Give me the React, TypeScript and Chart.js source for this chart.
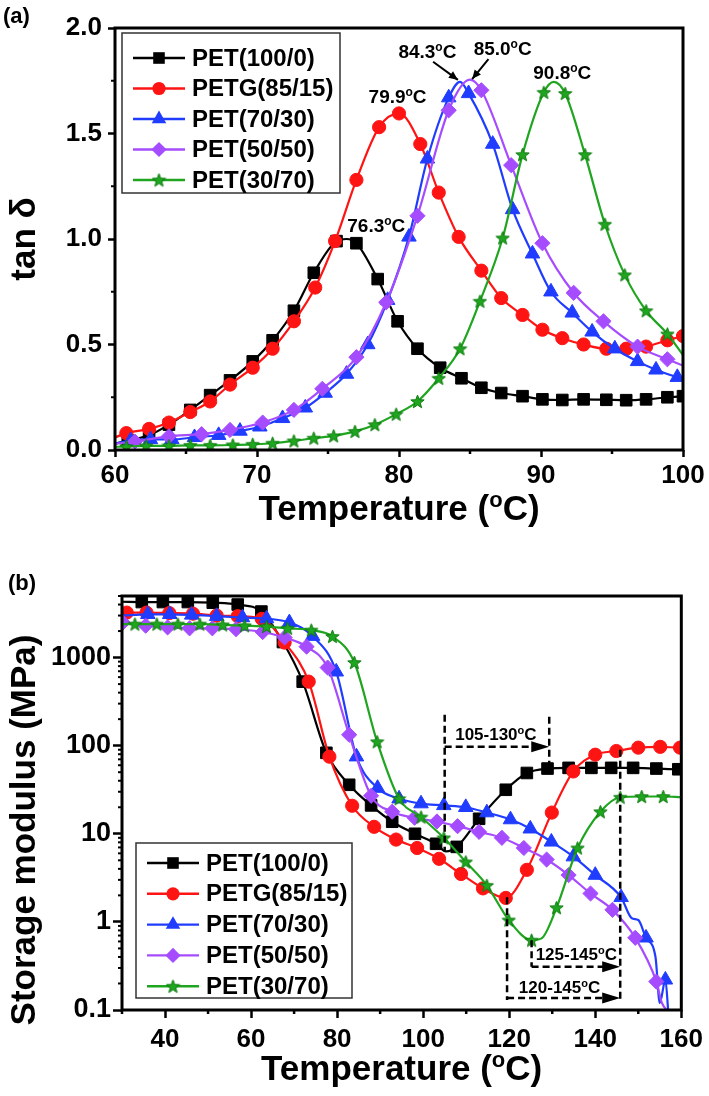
import React, { useEffect, useRef } from 'react';
import { Chart, registerables } from 'chart.js';
Chart.register(...registerables);

const FONT = "'Liberation Sans', Arial, Helvetica, sans-serif";

const NAMES = ['PET(100/0)', 'PETG(85/15)', 'PET(70/30)', 'PET(50/50)', 'PET(30/70)'];
const COLORS = ['#000000', '#ff1414', '#1f3cff', '#a64cff', '#1fa51f'];
const MARKERS = ['rect', 'circle', 'triangle', 'rectRot', 'star'];
const MARKER_R = [8.2, 6.6, 8.4, 7.6, 7];

// ---------- (a) tan delta ----------
const A_X_TICKS = [60, 70, 80, 90, 100];
const A_X_MINOR = [65, 75, 85, 95];
const A_Y_TICKS = [0, 0.5, 1.0, 1.5, 2.0];
const A_Y_MINOR = [0.25, 0.75, 1.25, 1.75];

const A_BLACK_T = [60, 60.9, 62.4, 63.8, 65.3, 66.7, 68.1, 69.7, 71.1, 72.6, 74.0, 75.6, 76.3, 77.0, 78.5, 79.9, 81.3, 82.9, 84.4, 85.8, 87.2, 88.7, 90.1, 91.5, 93.0, 94.6, 96.0, 97.4, 98.9, 100];
const A_BLACK_V = [0.03, 0.045, 0.07, 0.12, 0.19, 0.26, 0.33, 0.42, 0.52, 0.66, 0.84, 0.99, 1.0, 0.98, 0.81, 0.61, 0.48, 0.39, 0.34, 0.295, 0.27, 0.255, 0.24, 0.237, 0.24, 0.238, 0.236, 0.24, 0.25, 0.255];
const A_BLACK_M = [0, 1, 1, 1, 1, 1, 1, 1, 1, 1, 1, 1, 0, 1, 1, 1, 1, 1, 1, 1, 1, 1, 1, 1, 1, 1, 1, 1, 1, 1];

const A_RED_T = [60, 60.8, 62.4, 63.8, 65.3, 66.7, 68.1, 69.7, 71.1, 72.6, 74.1, 75.5, 77.0, 78.6, 80.0, 81.5, 82.8, 84.2, 85.8, 87.2, 88.7, 90.1, 91.5, 93.0, 94.6, 96.0, 97.4, 98.9, 100];
const A_RED_V = [0.06, 0.08, 0.10, 0.13, 0.18, 0.23, 0.31, 0.39, 0.48, 0.61, 0.77, 0.99, 1.28, 1.53, 1.595, 1.45, 1.22, 1.01, 0.85, 0.72, 0.64, 0.57, 0.53, 0.50, 0.48, 0.48, 0.49, 0.52, 0.54];
const A_RED_M = [0, 1, 1, 1, 1, 1, 1, 1, 1, 1, 1, 1, 1, 1, 1, 1, 1, 1, 1, 1, 1, 1, 1, 1, 1, 1, 1, 1, 1];

const A_BLUE_T = [60, 61.1, 62.5, 64.0, 65.6, 67.3, 68.8, 70.2, 71.8, 73.4, 74.8, 76.3, 77.8, 79.2, 80.7, 82.0, 83.5, 84.3, 84.9, 86.6, 88.0, 89.4, 90.7, 92.2, 93.6, 95.2, 96.8, 98.1, 99.6, 100];
const A_BLUE_V = [0.03, 0.045, 0.05, 0.05, 0.06, 0.07, 0.09, 0.11, 0.15, 0.20, 0.27, 0.36, 0.50, 0.71, 1.01, 1.38, 1.67, 1.745, 1.69, 1.45, 1.14, 0.93, 0.75, 0.65, 0.56, 0.48, 0.42, 0.38, 0.345, 0.34];
const A_BLUE_M = [0, 1, 1, 1, 1, 1, 1, 1, 1, 1, 1, 1, 1, 1, 1, 1, 1, 0, 1, 1, 1, 1, 1, 1, 1, 1, 1, 1, 1, 0];

const A_PURPLE_T = [60, 61.4, 63.8, 66.1, 68.1, 70.4, 72.6, 74.6, 77.0, 79.1, 81.3, 83.5, 85.0, 85.8, 87.9, 90.1, 92.3, 94.4, 96.8, 98.9, 100];
const A_PURPLE_V = [0.03, 0.04, 0.065, 0.075, 0.095, 0.13, 0.19, 0.29, 0.44, 0.70, 1.11, 1.61, 1.755, 1.705, 1.35, 0.98, 0.745, 0.61, 0.49, 0.43, 0.40];
const A_PURPLE_M = [0, 1, 1, 1, 1, 1, 1, 1, 1, 1, 1, 1, 0, 1, 1, 1, 1, 1, 1, 1, 0];

const A_GREEN_T = [60, 60.8, 62.2, 63.8, 65.3, 66.7, 68.3, 69.7, 71.1, 72.6, 74.0, 75.4, 76.9, 78.3, 79.8, 81.3, 82.8, 84.3, 85.7, 87.3, 88.7, 90.2, 90.9, 91.7, 93.1, 94.5, 95.9, 97.4, 98.9, 100];
const A_GREEN_V = [0.015, 0.016, 0.02, 0.02, 0.022, 0.022, 0.024, 0.027, 0.032, 0.043, 0.056, 0.067, 0.088, 0.12, 0.17, 0.23, 0.34, 0.48, 0.705, 1.005, 1.40, 1.695, 1.745, 1.69, 1.40, 1.07, 0.83, 0.66, 0.55, 0.45];
const A_GREEN_M = [0, 1, 1, 1, 1, 1, 1, 1, 1, 1, 1, 1, 1, 1, 1, 1, 1, 1, 1, 1, 1, 1, 0, 1, 1, 1, 1, 1, 1, 0];

const A_NOTE_TEXT = ['76.3', '79.9', '84.3', '85.0', '90.8'];
const A_NOTE_X = [78.4, 79.9, 82.0, 87.3, 91.5];
const A_NOTE_Y = [1.033, 1.645, 1.858, 1.872, 1.758];
const A_ARROW_X0 = [82.4, 86.3];
const A_ARROW_Y0 = [1.84, 1.853];
const A_ARROW_X1 = [84.15, 85.15];
const A_ARROW_Y1 = [1.754, 1.758];

// ---------- (b) storage modulus ----------
const B_X_TICKS = [40, 60, 80, 100, 120, 140, 160];
const B_X_MINOR = [30, 50, 70, 90, 110, 130, 150];
const B_Y_TICKS = [0.1, 1, 10, 100, 1000];
const B_Y_MINOR = [0.2, 0.3, 0.4, 0.5, 0.6, 0.7, 0.8, 0.9, 2, 3, 4, 5, 6, 7, 8, 9, 20, 30, 40, 50, 60, 70, 80, 90, 200, 300, 400, 500, 600, 700, 800, 900, 2000, 3000, 4000, 5000];

const B_BLACK_T = [30, 34.6, 39.5, 45.3, 51.1, 56.9, 62.4, 67.4, 72.0, 77.5, 82.8, 87.9, 92.8, 98.1, 103.0, 105.3, 107.8, 113.0, 119.2, 124.1, 128.9, 133.8, 139.1, 143.7, 148.8, 154.2, 159.3, 160];
const B_BLACK_V = [4300, 4270, 4270, 4270, 4200, 4000, 3330, 1500, 533, 83, 36, 21, 13.7, 10, 7.7, 6.3, 7.1, 14.8, 31.6, 49, 55, 56, 56, 56, 56, 55, 54, 54];
const B_BLACK_M = [0, 1, 1, 1, 1, 1, 1, 1, 1, 1, 1, 1, 1, 1, 1, 0, 1, 1, 1, 1, 1, 1, 1, 1, 1, 1, 1, 0];

const B_RED_T = [30, 31.1, 35.7, 41.0, 46.5, 52.0, 56.9, 62.5, 67.8, 73.4, 78.2, 83.5, 88.6, 93.7, 98.6, 103.7, 108.8, 113.9, 119.2, 124.1, 129.9, 134.9, 140.0, 144.9, 150.0, 155.1, 159.7, 160];
const B_RED_V = [3240, 3240, 3240, 3200, 3150, 3000, 2950, 2750, 1480, 533, 75, 20.8, 12, 8.6, 6.9, 5.2, 3.5, 2.4, 1.87, 3.9, 17.4, 51, 79, 87, 95, 97, 95, 95];
const B_RED_M = [0, 1, 1, 1, 1, 1, 1, 1, 1, 1, 1, 1, 1, 1, 1, 1, 1, 1, 1, 1, 1, 1, 1, 1, 1, 1, 1, 0];

const B_BLUE_T = [30, 36.0, 41.1, 46.2, 52.0, 58.0, 63.6, 68.9, 74.3, 79.8, 84.5, 89.4, 94.4, 99.5, 104.8, 109.9, 114.8, 120.3, 124.9, 129.8, 134.9, 140.0, 146.0, 148.5, 150.0, 151.8, 154.0, 155.0, 156.3, 157.0];
const B_BLUE_V = [3000, 3100, 3100, 3050, 2950, 2850, 2770, 2500, 1750, 690, 75, 33, 25, 22, 21, 20, 17.4, 14.5, 11.4, 8.1, 5.5, 3.4, 1.9, 1.1, 1.05, 0.66, 0.4, 0.12, 0.22, 0.09];
const B_BLUE_M = [0, 1, 1, 1, 1, 1, 1, 1, 1, 1, 1, 1, 1, 1, 1, 1, 1, 1, 1, 1, 1, 1, 1, 0, 0, 1, 0, 0, 1, 0];

const B_PURPLE_T = [30.2, 35.5, 40.6, 45.7, 51.0, 56.5, 62.7, 67.8, 72.9, 77.8, 82.8, 87.9, 92.8, 98.0, 103.2, 108.0, 113.0, 118.3, 123.4, 128.7, 133.8, 138.9, 144.0, 149.3, 154.2, 155.5, 158.5];
const B_PURPLE_V = [2500, 2300, 2200, 2150, 2150, 2100, 1950, 1690, 1330, 770, 133, 27, 17.8, 15.2, 13.8, 12.2, 10.5, 9.0, 6.9, 5.1, 3.4, 2.1, 1.37, 0.66, 0.21, 0.12, 0.09];
const B_PURPLE_M = [1, 1, 1, 1, 1, 1, 1, 1, 1, 1, 1, 1, 1, 1, 1, 1, 1, 1, 1, 1, 1, 1, 1, 1, 1, 0, 0];

const B_GREEN_T = [30, 33.0, 38.1, 43.0, 48.1, 53.4, 58.5, 63.6, 68.5, 74.0, 78.9, 84.0, 89.3, 94.4, 99.5, 104.8, 109.9, 114.8, 119.9, 125.2, 127.5, 131.0, 135.9, 141.2, 145.8, 150.8, 155.8, 160];
const B_GREEN_V = [2400, 2400, 2400, 2400, 2400, 2350, 2300, 2250, 2150, 2050, 1740, 880, 111, 25, 15.5, 9.0, 4.8, 2.6, 1.05, 0.62, 0.65, 1.45, 6.9, 17.8, 26, 26.5, 26.5, 26];
const B_GREEN_M = [0, 1, 1, 1, 1, 1, 1, 1, 1, 1, 1, 1, 1, 1, 1, 1, 1, 1, 1, 1, 0, 1, 1, 1, 1, 1, 1, 0];

// dashed guide lines: T position, start value, end value
const B_VLINE_T = [105, 129.3, 145.8, 119.5, 125.2];
const B_VLINE_FROM = [225, 213, 90, 1.9, 0.62];
const B_VLINE_TO = [6.3, 56, 0.13, 0.13, 0.31];
const B_ARROW_FROM_T = [105, 125.2, 119.5];
const B_ARROW_TO_T = [129.3, 145.8, 145.8];
const B_ARROW_V = [97.5, 0.31, 0.137];
const B_NOTE_TEXT = ['105-130', '125-145', '120-145'];
const B_NOTE_X = [116.9, 135.6, 131.7];
const B_NOTE_Y = [117, 0.37, 0.156];

function makeStar(color: string, size: number) {
  const c = document.createElement('canvas');
  c.width = size;
  c.height = size;
  const g = c.getContext('2d')!;
  const cx = size / 2, cy = size / 2 + 0.6;
  const R = size / 2 - 0.5, r = R * 0.42;
  g.beginPath();
  for (let i = 0; i < 10; i++) {
    const ang = -Math.PI / 2 + (i * Math.PI) / 5;
    const rad = i % 2 === 0 ? R : r;
    const px = cx + Math.cos(ang) * rad, py = cy + Math.sin(ang) * rad;
    if (i === 0) g.moveTo(px, py); else g.lineTo(px, py);
  }
  g.closePath();
  g.fillStyle = color;
  g.fill();
  g.strokeStyle = '#0d7a0d';
  g.lineWidth = 1;
  g.stroke();
  return c;
}

function drawMarker(ctx: CanvasRenderingContext2D, style: string, x: number, y: number, r: number, color: string, star: HTMLCanvasElement) {
  ctx.save();
  ctx.fillStyle = color;
  ctx.beginPath();
  if (style === 'rect') {
    const s = Math.SQRT1_2 * r;
    ctx.rect(x - s, y - s, 2 * s, 2 * s);
  } else if (style === 'circle') {
    ctx.arc(x, y, r, 0, Math.PI * 2);
  } else if (style === 'triangle') {
    for (let i = 0; i < 3; i++) {
      const a = -Math.PI / 2 + (i * 2 * Math.PI) / 3;
      const px = x + Math.cos(a) * r, py = y + Math.sin(a) * r;
      if (i === 0) ctx.moveTo(px, py); else ctx.lineTo(px, py);
    }
    ctx.closePath();
  } else if (style === 'rectRot') {
    ctx.moveTo(x, y - r); ctx.lineTo(x + r, y); ctx.lineTo(x, y + r); ctx.lineTo(x - r, y); ctx.closePath();
  }
  if (style === 'star') {
    ctx.drawImage(star, x - star.width / 2, y - star.height / 2);
  } else {
    ctx.fill();
  }
  ctx.restore();
}

function supText(ctx: CanvasRenderingContext2D, x: number, y: number, base: string, sup: string, tail: string, size: number) {
  const supSize = Math.round(size * 0.64);
  ctx.font = `bold ${size}px ${FONT}`;
  const w1 = ctx.measureText(base).width;
  const w3 = ctx.measureText(tail).width;
  ctx.font = `bold ${supSize}px ${FONT}`;
  const w2 = ctx.measureText(sup).width;
  const sx = x - (w1 + w2 + w3) / 2;
  ctx.textAlign = 'left';
  ctx.textBaseline = 'alphabetic';
  ctx.fillStyle = '#000';
  ctx.font = `bold ${size}px ${FONT}`;
  ctx.fillText(base, sx, y);
  ctx.fillText(tail, sx + w1 + w2, y);
  ctx.font = `bold ${supSize}px ${FONT}`;
  ctx.fillText(sup, sx + w1, y - size * 0.36);
}

function arrowHead(ctx: CanvasRenderingContext2D, x0: number, y0: number, x1: number, y1: number, len: number, half: number) {
  const a = Math.atan2(y1 - y0, x1 - x0);
  ctx.beginPath();
  ctx.moveTo(x1, y1);
  ctx.lineTo(x1 - len * Math.cos(a) + half * Math.sin(a), y1 - len * Math.sin(a) - half * Math.cos(a));
  ctx.lineTo(x1 - len * Math.cos(a) - half * Math.sin(a), y1 - len * Math.sin(a) + half * Math.cos(a));
  ctx.closePath();
  ctx.fill();
}

type Series = { t: number[]; v: number[]; m: number[] };

function buildDatasets(series: Series[], star: HTMLCanvasElement) {
  return series.map((s, i) => ({
    label: NAMES[i],
    data: s.t.map((t, k) => ({ x: t, y: s.v[k] })),
    borderColor: COLORS[i],
    backgroundColor: COLORS[i],
    borderWidth: 2.2,
    pointStyle: MARKERS[i] === 'star' ? star : MARKERS[i],
    pointRadius: (c: any) => (s.m[c.dataIndex] ? MARKER_R[i] : 0),
    pointHoverRadius: 0,
    pointBackgroundColor: COLORS[i],
    pointBorderColor: COLORS[i],
    pointBorderWidth: 1,
    cubicInterpolationMode: 'monotone',
    order: 5 - i,
  }));
}

function legendPlugin(id: string, boxX: number, boxY: number, boxW: number, boxH: number, row0: number, step: number, star: HTMLCanvasElement) {
  return {
    id,
    afterDatasetsDraw(chart: any) {
      const ctx: CanvasRenderingContext2D = chart.ctx;
      ctx.save();
      ctx.fillStyle = '#fff';
      ctx.fillRect(boxX, boxY, boxW, boxH);
      ctx.strokeStyle = '#333';
      ctx.lineWidth = 1.5;
      ctx.strokeRect(boxX, boxY, boxW, boxH);
      NAMES.forEach((name, i) => {
        const y = row0 + i * step;
        ctx.strokeStyle = COLORS[i];
        ctx.lineWidth = 2.4;
        ctx.beginPath();
        ctx.moveTo(boxX + 11, y);
        ctx.lineTo(boxX + 63, y);
        ctx.stroke();
        drawMarker(ctx, MARKERS[i], boxX + 37, y, MARKER_R[i], COLORS[i], star);
        ctx.fillStyle = '#000';
        ctx.font = `bold 24px ${FONT}`;
        ctx.textAlign = 'left';
        ctx.textBaseline = 'middle';
        ctx.fillText(name, boxX + 70, y + 1);
      });
      ctx.restore();
    },
  };
}

function framePlugin(id: string, xMinor: number[], yMinor: number[]) {
  return {
    id,
    afterDraw(chart: any) {
      const ctx: CanvasRenderingContext2D = chart.ctx;
      const a = chart.chartArea;
      const xs = chart.scales.x, ys = chart.scales.y;
      ctx.save();
      ctx.strokeStyle = '#000';
      ctx.lineWidth = 2.5;
      xMinor.forEach((v) => {
        const px = xs.getPixelForValue(v);
        ctx.beginPath();
        ctx.moveTo(px, a.bottom);
        ctx.lineTo(px, a.bottom + 4);
        ctx.stroke();
      });
      ctx.lineWidth = 2;
      yMinor.forEach((v) => {
        const py = ys.getPixelForValue(v);
        ctx.beginPath();
        ctx.moveTo(a.left, py);
        ctx.lineTo(a.left - 4, py);
        ctx.stroke();
      });
      ctx.lineWidth = 3;
      ctx.strokeRect(a.left, a.top, a.right - a.left, a.bottom - a.top);
      ctx.restore();
    },
  };
}

function ChartA() {
  const ref = useRef<HTMLCanvasElement>(null);
  useEffect(() => {
    const star = makeStar(COLORS[4], 15);
    const series: Series[] = [
      { t: A_BLACK_T, v: A_BLACK_V, m: A_BLACK_M },
      { t: A_RED_T, v: A_RED_V, m: A_RED_M },
      { t: A_BLUE_T, v: A_BLUE_V, m: A_BLUE_M },
      { t: A_PURPLE_T, v: A_PURPLE_V, m: A_PURPLE_M },
      { t: A_GREEN_T, v: A_GREEN_V, m: A_GREEN_M },
    ];
    const tickFont = { family: FONT, size: 26, weight: 'bold' as const };
    const chart = new Chart(ref.current!, {
      type: 'line',
      data: { datasets: buildDatasets(series, star) as any },
      options: {
        animation: false,
        responsive: false,
        events: [],
        layout: { padding: { left: 0, right: 26, top: 28, bottom: 0 } },
        plugins: { legend: { display: false }, tooltip: { enabled: false } },
        scales: {
          x: {
            type: 'linear', min: 60, max: 100,
            afterBuildTicks: (ax: any) => { ax.ticks = A_X_TICKS.map((v) => ({ value: v })); },
            afterFit: (ax: any) => { ax.height = 95; },
            ticks: { font: tickFont, color: '#000', padding: 3, maxRotation: 0, autoSkip: false, callback: (v: any) => String(v) },
            grid: { display: true, drawOnChartArea: false, drawTicks: true, tickLength: 7, tickWidth: 2.5, tickColor: '#000' },
            border: { display: false },
          },
          y: {
            type: 'linear', min: 0, max: 2,
            afterBuildTicks: (ax: any) => { ax.ticks = A_Y_TICKS.map((v) => ({ value: v })); },
            afterFit: (ax: any) => { ax.width = 115; },
            ticks: { font: tickFont, color: '#000', padding: 6, autoSkip: false, callback: (v: any) => Number(v).toFixed(1) },
            grid: { display: true, drawOnChartArea: false, drawTicks: true, tickLength: 7, tickWidth: 2.5, tickColor: '#000' },
            border: { display: false },
          },
        },
      },
      plugins: [
        legendPlugin('legendA', 122, 33, 218, 160, 58, 30.5, star),
        framePlugin('frameA', A_X_MINOR, A_Y_MINOR),
        {
          id: 'textA',
          afterDraw(c: any) {
            const ctx: CanvasRenderingContext2D = c.ctx;
            const a = c.chartArea;
            const xs = c.scales.x, ys = c.scales.y;
            ctx.save();
            supText(ctx, (a.left + a.right) / 2, 520, 'Temperature (', 'o', 'C)', 35);
            ctx.save();
            ctx.translate(35, (a.top + a.bottom) / 2);
            ctx.rotate(-Math.PI / 2);
            ctx.font = `bold 35px ${FONT}`;
            ctx.textAlign = 'center';
            ctx.textBaseline = 'alphabetic';
            ctx.fillStyle = '#000';
            ctx.fillText('tan δ', 0, 0);
            ctx.restore();
            ctx.font = `bold 22px ${FONT}`;
            ctx.textAlign = 'left';
            ctx.fillStyle = '#000';
            ctx.fillText('(a)', 3, 23);
            A_NOTE_TEXT.forEach((t, i) => {
              supText(ctx, xs.getPixelForValue(A_NOTE_X[i]), ys.getPixelForValue(A_NOTE_Y[i]), t, 'o', 'C', 19);
            });
            ctx.strokeStyle = '#000';
            ctx.fillStyle = '#000';
            ctx.lineWidth = 2;
            A_ARROW_X0.forEach((_, i) => {
              const x0 = xs.getPixelForValue(A_ARROW_X0[i]), y0 = ys.getPixelForValue(A_ARROW_Y0[i]);
              const x1 = xs.getPixelForValue(A_ARROW_X1[i]), y1 = ys.getPixelForValue(A_ARROW_Y1[i]);
              ctx.beginPath();
              ctx.moveTo(x0, y0);
              ctx.lineTo(x1, y1);
              ctx.stroke();
              arrowHead(ctx, x0, y0, x1, y1, 9, 4);
            });
            ctx.restore();
          },
        },
      ],
    });
    return () => chart.destroy();
  }, []);
  return <canvas ref={ref} width={709} height={545} style={{ display: 'block' }} />;
}

function ChartB() {
  const ref = useRef<HTMLCanvasElement>(null);
  useEffect(() => {
    const star = makeStar(COLORS[4], 15);
    const series: Series[] = [
      { t: B_BLACK_T, v: B_BLACK_V, m: B_BLACK_M },
      { t: B_RED_T, v: B_RED_V, m: B_RED_M },
      { t: B_BLUE_T, v: B_BLUE_V, m: B_BLUE_M },
      { t: B_PURPLE_T, v: B_PURPLE_V, m: B_PURPLE_M },
      { t: B_GREEN_T, v: B_GREEN_V, m: B_GREEN_M },
    ];
    const tickFont = { family: FONT, size: 26, weight: 'bold' as const };
    const chart = new Chart(ref.current!, {
      type: 'line',
      data: { datasets: buildDatasets(series, star) as any },
      options: {
        animation: false,
        responsive: false,
        events: [],
        layout: { padding: { left: 0, right: 26, top: 51, bottom: 0 } },
        plugins: { legend: { display: false }, tooltip: { enabled: false } },
        scales: {
          x: {
            type: 'linear', min: 30, max: 160,
            afterBuildTicks: (ax: any) => { ax.ticks = B_X_TICKS.map((v) => ({ value: v })); },
            afterFit: (ax: any) => { ax.height = 86; },
            ticks: { font: tickFont, color: '#000', padding: 6, maxRotation: 0, autoSkip: false, callback: (v: any) => String(v) },
            grid: { display: true, drawOnChartArea: false, drawTicks: true, tickLength: 8, tickWidth: 2.5, tickColor: '#000' },
            border: { display: false },
          },
          y: {
            type: 'logarithmic', min: 0.1, max: 5000,
            afterBuildTicks: (ax: any) => { ax.ticks = B_Y_TICKS.map((v) => ({ value: v })); },
            afterFit: (ax: any) => { ax.width = 122; },
            ticks: { font: { family: FONT, size: 27, weight: 'bold' as const }, color: '#000', padding: 2, autoSkip: false, callback: (v: any) => String(v) },
            grid: { display: true, drawOnChartArea: false, drawTicks: true, tickLength: 9, tickWidth: 2.5, tickColor: '#000' },
            border: { display: false },
          },
        },
      },
      plugins: [
        legendPlugin('legendB', 136, 298, 216, 155, 318, 30.8, star),
        framePlugin('frameB', B_X_MINOR, B_Y_MINOR),
        {
          id: 'textB',
          afterDraw(c: any) {
            const ctx: CanvasRenderingContext2D = c.ctx;
            const a = c.chartArea;
            const xs = c.scales.x, ys = c.scales.y;
            ctx.save();
            supText(ctx, (a.left + a.right) / 2, 535, 'Temperature (', 'o', 'C)', 35);
            ctx.save();
            ctx.translate(35, 285);
            ctx.rotate(-Math.PI / 2);
            ctx.font = `bold 35px ${FONT}`;
            ctx.textAlign = 'center';
            ctx.textBaseline = 'alphabetic';
            ctx.fillStyle = '#000';
            ctx.fillText('Storage modulus (MPa)', 0, 0);
            ctx.restore();
            ctx.font = `bold 22px ${FONT}`;
            ctx.textAlign = 'left';
            ctx.fillStyle = '#000';
            ctx.fillText('(b)', 8, 45);
            ctx.strokeStyle = '#000';
            ctx.fillStyle = '#000';
            ctx.lineWidth = 2.5;
            ctx.setLineDash([7, 4]);
            B_VLINE_T.forEach((t, i) => {
              const px = xs.getPixelForValue(t);
              ctx.beginPath();
              ctx.moveTo(px, ys.getPixelForValue(B_VLINE_FROM[i]));
              ctx.lineTo(px, ys.getPixelForValue(B_VLINE_TO[i]));
              ctx.stroke();
            });
            B_ARROW_FROM_T.forEach((t, i) => {
              const x0 = xs.getPixelForValue(t), x1 = xs.getPixelForValue(B_ARROW_TO_T[i]);
              const py = ys.getPixelForValue(B_ARROW_V[i]);
              ctx.beginPath();
              ctx.moveTo(x0, py);
              ctx.lineTo(x1 - 12, py);
              ctx.stroke();
            });
            ctx.setLineDash([]);
            B_ARROW_FROM_T.forEach((t, i) => {
              const x0 = xs.getPixelForValue(t), x1 = xs.getPixelForValue(B_ARROW_TO_T[i]);
              const py = ys.getPixelForValue(B_ARROW_V[i]);
              arrowHead(ctx, x0, py, x1, py, 18, 5.5);
            });
            B_NOTE_TEXT.forEach((t, i) => {
              supText(ctx, xs.getPixelForValue(B_NOTE_X[i]), ys.getPixelForValue(B_NOTE_Y[i]), t, 'o', 'C', 17);
            });
            ctx.restore();
          },
        },
      ],
    });
    return () => chart.destroy();
  }, []);
  return <canvas ref={ref} width={709} height={551} style={{ display: 'block' }} />;
}

export default function App() {
  return (
    <div style={{ position: 'absolute', left: 0, top: 0, width: 709, height: 1096, background: '#fff' }}>
      <ChartA />
      <ChartB />
    </div>
  );
}
